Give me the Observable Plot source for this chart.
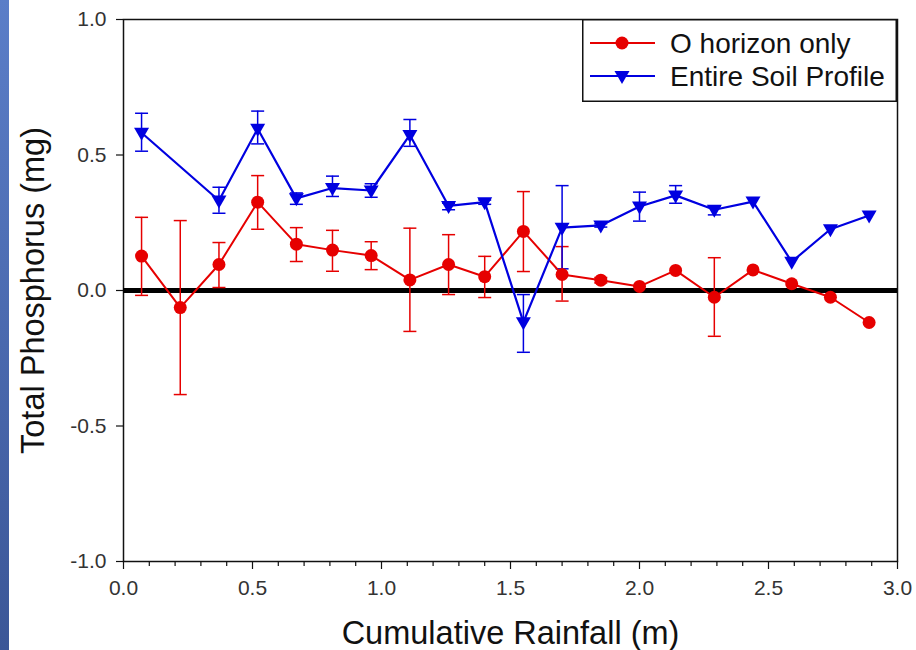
<!DOCTYPE html>
<html>
<head>
<meta charset="utf-8">
<script src="https://cdn.jsdelivr.net/npm/d3@7"></script>
<script src="https://cdn.jsdelivr.net/npm/@observablehq/plot@0.6"></script>
<style>
  html, body { margin: 0; padding: 0; background: #fff; }
  #wrap { position: relative; width: 916px; height: 650px; overflow: hidden; font-family: "Liberation Sans", Arial, sans-serif; }
  #strip { position: absolute; left: 0; top: 0; width: 9px; height: 650px; background: linear-gradient(#5b7ec8, #3b5697); }
  #legend { position: absolute; left: 582px; top: 19px; }
</style>
</head>
<body>
<div id="wrap"><div id="strip"></div></div>
<script>
// ---- data ----
const oRain   = [0.07, 0.22, 0.37, 0.52, 0.67, 0.81, 0.96, 1.11, 1.26, 1.40, 1.55, 1.70, 1.85, 2.00, 2.14, 2.29, 2.44, 2.59, 2.74, 2.89];
const oValue  = [0.127, -0.063, 0.096, 0.326, 0.171, 0.149, 0.129, 0.039, 0.096, 0.051, 0.218, 0.059, 0.038, 0.015, 0.074, -0.025, 0.076, 0.025, -0.025, -0.118];
const oHigh   = [0.270, 0.258, 0.177, 0.424, 0.232, 0.222, 0.180, 0.230, 0.206, 0.126, 0.365, 0.162, 0.048, null, null, 0.121, null, null, null, null];
const oLow    = [-0.018, -0.384, 0.011, 0.226, 0.107, 0.071, 0.077, -0.151, -0.015, -0.026, 0.070, -0.039, 0.028, null, null, -0.169, null, null, null, null];

const eRain   = [0.07, 0.37, 0.52, 0.67, 0.81, 0.96, 1.11, 1.26, 1.40, 1.55, 1.70, 1.85, 2.00, 2.14, 2.29, 2.44, 2.59, 2.74, 2.89];
const eValue  = [0.582, 0.332, 0.597, 0.340, 0.378, 0.369, 0.574, 0.312, 0.326, -0.117, 0.232, 0.240, 0.310, 0.351, 0.298, 0.328, 0.106, 0.226, 0.277];
const eHigh   = [0.654, 0.381, 0.662, 0.360, 0.422, 0.394, 0.631, 0.322, 0.334, -0.015, 0.387, 0.246, 0.363, 0.387, 0.310, null, null, null, null];
const eLow    = [0.514, 0.285, 0.541, 0.318, 0.347, 0.344, 0.532, 0.298, 0.318, -0.228, 0.080, 0.234, 0.256, 0.322, 0.279, null, null, null, null];

const xMajorTicks = [0.0, 0.5, 1.0, 1.5, 2.0, 2.5, 3.0];
const xMinorTicks = [0.1, 0.2, 0.3, 0.4, 0.6, 0.7, 0.8, 0.9, 1.1, 1.2, 1.3, 1.4, 1.6, 1.7, 1.8, 1.9, 2.1, 2.2, 2.3, 2.4, 2.6, 2.7, 2.8, 2.9];
const yTicks = [-1.0, -0.5, 0.0, 0.5, 1.0];

const seriesNames = ["O horizon only", "Entire Soil Profile"];
const RED = "#e60000", BLUE = "#0000e0";

// ---- tables ----
const oData = oRain.map((x, i) => ({x, y: oValue[i], hi: oHigh[i], lo: oLow[i]}));
const eData = eRain.map((x, i) => ({x, y: eValue[i], hi: eHigh[i], lo: eLow[i]}));
const oErr = oData.filter(d => d.hi != null);
const eErr = eData.filter(d => d.hi != null);
const caps = (arr) => arr.flatMap(d => [{x: d.x, y: d.hi}, {x: d.x, y: d.lo}]);

const triDown = { draw(ctx) { ctx.moveTo(-7.5, -5); ctx.lineTo(7.5, -5); ctx.lineTo(0, 8); ctx.closePath(); } };
const capSym  = { draw(ctx) { ctx.moveTo(-6.5, 0); ctx.lineTo(6.5, 0); } };

const font = "'Liberation Sans', Arial, sans-serif";

const chart = Plot.plot({
  width: 916,
  height: 650,
  marginLeft: 123,
  marginRight: 19,
  marginTop: 19,
  marginBottom: 89,
  style: { fontFamily: font, background: "transparent", overflow: "visible" },
  x: { domain: [0, 3] },
  y: { domain: [-1, 1] },
  marks: [
    Plot.frame({ stroke: "#111", strokeWidth: 1.5 }),
    Plot.axisX({ ticks: xMinorTicks, tickSize: 5, tickFormat: () => "", stroke: "#111", strokeWidth: 1.2, label: null }),
    Plot.axisX({ ticks: xMajorTicks, tickSize: 8, tickPadding: 11, tickFormat: d => d.toFixed(1), fontSize: 21, fill: "#333", stroke: "#111", strokeWidth: 1.2, label: null }),
    Plot.axisY({ ticks: yTicks, tickSize: 7, tickPadding: 10, tickFormat: d => d.toFixed(1), fontSize: 21, fill: "#333", stroke: "#111", strokeWidth: 1.2, label: null }),
    Plot.ruleY([0], { stroke: "black", strokeWidth: 5 }),
    // error bars
    Plot.ruleX(oErr, { x: "x", y1: "lo", y2: "hi", stroke: RED, strokeWidth: 1.5 }),
    Plot.dot(caps(oErr), { x: "x", y: "y", symbol: capSym, fill: "none", stroke: RED, strokeWidth: 1.5 }),
    Plot.ruleX(eErr, { x: "x", y1: "lo", y2: "hi", stroke: BLUE, strokeWidth: 1.5 }),
    Plot.dot(caps(eErr), { x: "x", y: "y", symbol: capSym, fill: "none", stroke: BLUE, strokeWidth: 1.5 }),
    // lines
    Plot.line(oData, { x: "x", y: "y", stroke: RED, strokeWidth: 2 }),
    Plot.line(eData, { x: "x", y: "y", stroke: BLUE, strokeWidth: 2.2 }),
    // markers
    Plot.dot(oData, { x: "x", y: "y", r: 6.5, fill: RED, stroke: "none" }),
    Plot.dot(eData, { x: "x", y: "y", symbol: triDown, fill: BLUE, stroke: "none" }),
    // axis titles
    Plot.text(["Cumulative Rainfall (m)"], { frameAnchor: "bottom", dy: 82, lineAnchor: "bottom", textAnchor: "middle", fontSize: 32.5, fill: "#111" }),
    Plot.text(["Total Phosphorus (mg)"], { frameAnchor: "left", dx: -80, rotate: -90, lineAnchor: "bottom", textAnchor: "middle", fontSize: 32.5, fill: "#111" })
  ]
});
document.getElementById("wrap").appendChild(chart);

// make sure tick labels use the reference's size
d3.select(chart).selectAll("text")
  .filter(function () { return /^-?\d\.\d$/.test(this.textContent.trim()); })
  .attr("font-size", 21).style("font-size", "21px");

// ---- legend (boxed, top-right, as in the reference) ----
const lw = 315, lh = 83;
const leg = d3.select("#wrap").append("svg").attr("id", "legend").attr("width", lw).attr("height", lh)
  .style("font-family", font);
leg.append("rect").attr("x", 0.75).attr("y", 0.75).attr("width", lw - 1.5).attr("height", lh - 1.5)
  .attr("fill", "white").attr("stroke", "#111").attr("stroke-width", 1.5);
const rows = [
  { name: seriesNames[0], color: RED, y: 24, sym: "circle" },
  { name: seriesNames[1], color: BLUE, y: 57, sym: "tri" }
];
rows.forEach(r => {
  leg.append("line").attr("x1", 8).attr("x2", 73).attr("y1", r.y).attr("y2", r.y)
    .attr("stroke", r.color).attr("stroke-width", 2);
  if (r.sym === "circle") {
    leg.append("circle").attr("cx", 40).attr("cy", r.y).attr("r", 6.5).attr("fill", r.color);
  } else {
    leg.append("path").attr("d", `M${40 - 7.5},${r.y - 5}L${40 + 7.5},${r.y - 5}L40,${r.y + 8}Z`).attr("fill", r.color);
  }
  leg.append("text").attr("x", 88).attr("y", r.y).attr("dy", "0.35em").attr("font-size", 28)
    .attr("fill", "#111").text(r.name);
});
</script>
</body>
</html>
